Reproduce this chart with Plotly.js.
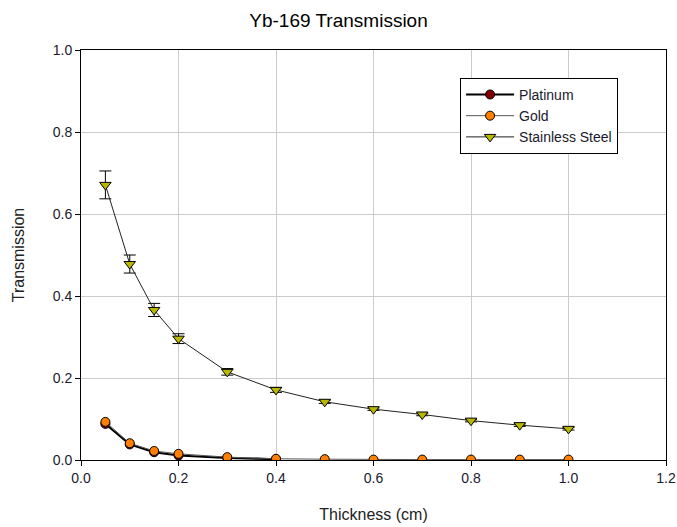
<!DOCTYPE html>
<html>
<head>
<meta charset="utf-8">
<script src="https://cdn.plot.ly/plotly-3.0.1.min.js"></script>
<style>html,body{margin:0;padding:0;background:#fff;}#chart{width:677px;height:527px;}</style>
</head>
<body>
<div id="chart"></div>
<script>
const platinumX = [0.05, 0.1, 0.15, 0.2, 0.3, 0.4];
const platinumY = [0.088, 0.038, 0.019, 0.011, 0.005, 0.002];

const goldX = [0.05, 0.1, 0.15, 0.2, 0.3, 0.4, 0.5, 0.6, 0.7, 0.8, 0.9, 1.0];
const goldY = [0.093, 0.041, 0.022, 0.015, 0.007, 0.003, 0.002, 0.001, 0.001, 0.001, 0.001, 0.001];

const steelX = [0.05, 0.1, 0.15, 0.2, 0.3, 0.4, 0.5, 0.6, 0.7, 0.8, 0.9, 1.0];
const steelY = [0.671, 0.478, 0.366, 0.296, 0.215, 0.171, 0.142, 0.124, 0.111, 0.096, 0.085, 0.076];
const steelErr = [0.034, 0.022, 0.016, 0.012, 0.008, 0.006, 0.004, 0.003, 0.003, 0.003, 0.003, 0.003];

const xTicks = [0, 0.2, 0.4, 0.6, 0.8, 1.0, 1.2];
const yTicks = [0, 0.2, 0.4, 0.6, 0.8, 1.0];

const traces = [
  {
    x: platinumX, y: platinumY, name: 'Platinum', type: 'scatter', mode: 'lines+markers',
    line: {color: '#000', width: 2},
    marker: {symbol: 'circle', size: 9, color: '#800000', line: {color: '#000', width: 1}}
  },
  {
    x: goldX, y: goldY, name: 'Gold', type: 'scatter', mode: 'lines+markers',
    line: {color: '#555', width: 1},
    marker: {symbol: 'circle', size: 9, color: '#ff8000', line: {color: '#000', width: 1}}
  },
  {
    x: steelX, y: steelY, name: 'Stainless Steel', type: 'scatter', mode: 'lines+markers',
    line: {color: '#222', width: 1},
    marker: {symbol: 'triangle-down', size: 10, color: '#b8b800', line: {color: '#000', width: 1}},
    error_y: {type: 'data', array: steelErr, visible: true, color: '#000', thickness: 1, width: 6}
  }
];

const layout = {
  width: 677, height: 527,
  margin: {l: 81, r: 11, t: 50, b: 67},
  paper_bgcolor: '#fff', plot_bgcolor: '#fff',
  font: {family: 'Liberation Sans, Arial, sans-serif', size: 14, color: '#1a1a2e'},
  title: {text: 'Yb-169 Transmission', x: 0.5, xanchor: 'center', y: 0.962, yanchor: 'middle',
          font: {size: 19, color: '#000'}},
  xaxis: {
    range: [0, 1.2], tickvals: xTicks, tickformat: '.1f',
    showgrid: true, gridcolor: '#cccccc', gridwidth: 1,
    showline: true, linecolor: '#000', linewidth: 1, mirror: true,
    ticks: 'outside', ticklen: 5, tickcolor: '#000', zeroline: false,
    title: {text: 'Thickness (cm)', font: {size: 16, color: '#222'}, standoff: 24}
  },
  yaxis: {
    range: [0, 1.0], tickvals: yTicks, tickformat: '.1f',
    showgrid: true, gridcolor: '#cccccc', gridwidth: 1,
    showline: true, linecolor: '#000', linewidth: 1, mirror: true,
    ticks: 'outside', ticklen: 5, tickcolor: '#000', zeroline: false,
    title: {text: 'Transmission', font: {size: 16, color: '#222'}, standoff: 24}
  },
  legend: {
    x: 0.648, y: 0.932, xanchor: 'left', yanchor: 'top',
    bgcolor: '#fff', bordercolor: '#000', borderwidth: 1,
    font: {size: 14, color: '#1a1a2e'}, tracegroupgap: 0, itemwidth: 48
  },
  showlegend: true
};

Plotly.newPlot('chart', traces, layout, {displayModeBar: false, staticPlot: true});
</script>
</body>
</html>
